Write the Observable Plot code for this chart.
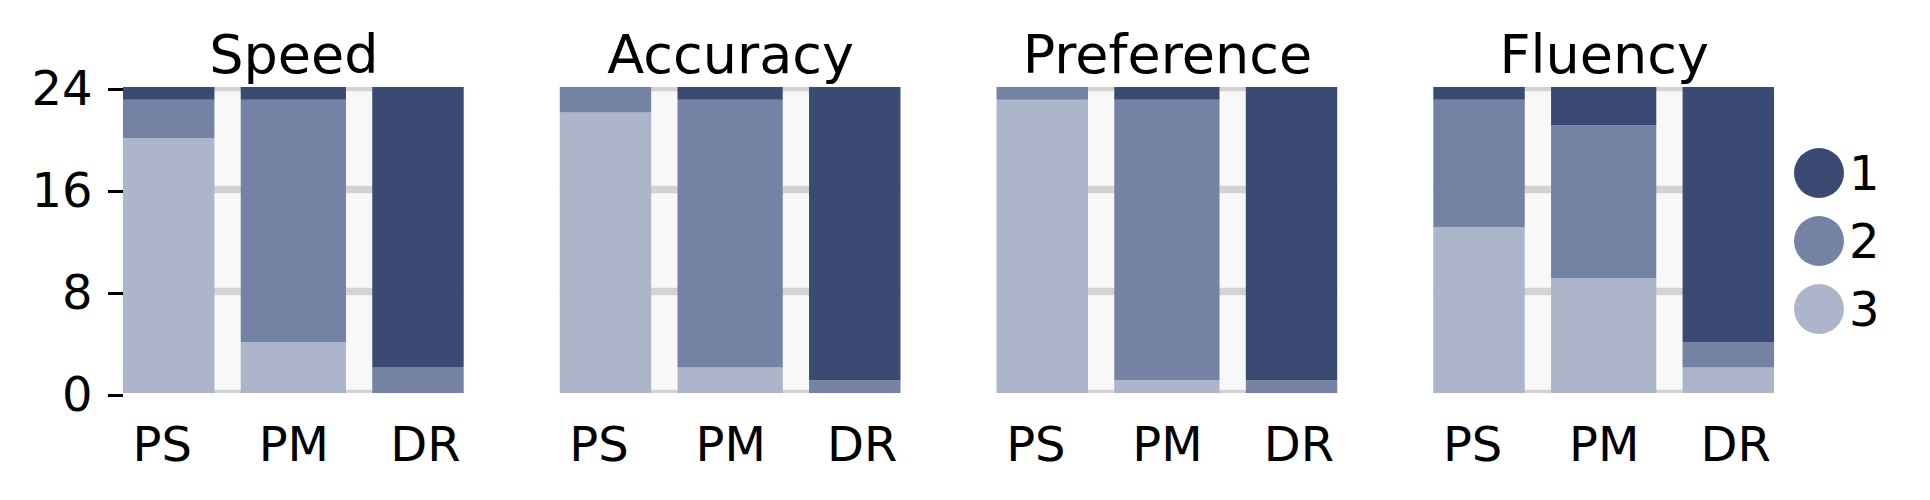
<!DOCTYPE html>
<html>
<head>
<meta charset="utf-8">
<script src="https://cdn.jsdelivr.net/npm/d3@7"></script>
<script src="https://cdn.jsdelivr.net/npm/@observablehq/plot@0.6"></script>
<style>
  html, body { margin: 0; padding: 0; background: #ffffff; }
  #wrap { position: relative; width: 1930px; height: 500px; font-family: "DejaVu Sans", sans-serif; }
  #legend { position: absolute; left: 1794px; top: 139px; }
  .item { display: flex; align-items: center; height: 68px; }
  .dot { width: 50px; height: 50px; border-radius: 50%; margin-right: 5px; }
  .lab { font-size: 48px; line-height: 1; color: #000; }
</style>
</head>
<body>
<div id="wrap"></div>
<script>
// ---- data ----
const metrics = ["Speed", "Accuracy", "Preference", "Fluency"];
const methods = ["PS", "PM", "DR"];
const levels = ["1", "2", "3"];
const colors = ["#3b4a72", "#7483a3", "#adb5ca"];
const yTicks = [0, 8, 16, 24];
// counts for [PS, PM, DR] x [level 1, level 2, level 3]
const speed      = [[1, 3, 20], [1, 19, 4], [22, 2, 0]];
const accuracy   = [[0, 2, 22], [1, 21, 2], [23, 1, 0]];
const preference = [[0, 1, 23], [1, 22, 1], [23, 1, 0]];
const fluency    = [[1, 10, 13], [3, 12, 9], [20, 2, 2]];

const tables = [speed, accuracy, preference, fluency];
const rows = [];
metrics.forEach((m, mi) => {
  methods.forEach((meth, k) => {
    // stack from level 3 (bottom) up to level 1 (top)
    for (let li = levels.length - 1; li >= 0; li--) {
      rows.push({metric: m, method: meth, level: levels[li], count: tables[mi][k][li]});
    }
  });
});

const chart = Plot.plot({
  width: 1930,
  height: 500,
  marginTop: 87,
  marginBottom: 107,
  marginLeft: 123,
  marginRight: 156,
  style: {fontFamily: "DejaVu Sans", fontSize: "48px", background: "transparent", color: "#000"},
  fx: {domain: metrics, paddingInner: 0.22, paddingOuter: 0, round: false, axis: null},
  x: {domain: methods, paddingInner: 0.2, paddingOuter: -0.105, round: false, axis: null},
  y: {domain: [0, 24], axis: null},
  color: {domain: levels, range: colors},
  marks: [
    Plot.frame({fill: "#f8f8f8", stroke: null}),
    Plot.gridY(yTicks, {stroke: "#d3d3d3", strokeOpacity: 1, strokeWidth: 7.5, clip: true}),
    Plot.barY(rows, {fx: "metric", x: "method", y: "count", fill: "level", clip: true}),
    Plot.axisY(yTicks, {tickSize: 15, tickPadding: 16, strokeWidth: 3, fontSize: 48, dy: 2, label: null, tickFormat: d => String(d)}),
    Plot.axisX({tickSize: 0, tickPadding: 33, fontSize: 48, label: null}),
    Plot.text(metrics, {fx: d => d, text: d => d, frameAnchor: "top", lineAnchor: "bottom", dy: -15, fontSize: 54, fill: "#000"})
  ]
});

const wrap = document.getElementById("wrap");
wrap.appendChild(chart);

// legend
const legend = d3.select(wrap).append("div").attr("id", "legend");
const items = legend.selectAll(".item").data(levels).join("div").attr("class", "item");
items.append("div").attr("class", "dot").style("background", (d, i) => colors[i]);
items.append("div").attr("class", "lab").text(d => d);
</script>
</body>
</html>
